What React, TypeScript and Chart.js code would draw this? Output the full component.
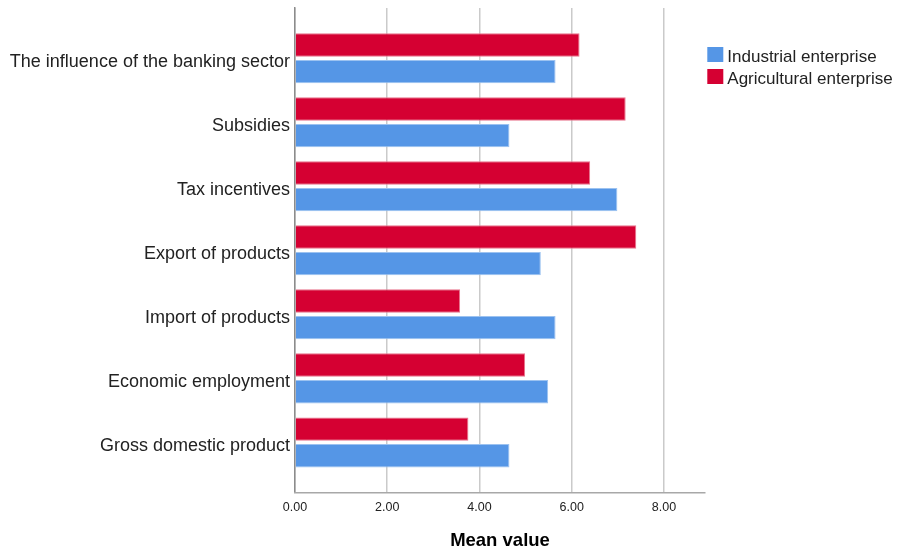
import React, { useEffect, useRef } from "react";
import { Chart, registerables } from "chart.js";

Chart.register(...registerables);

const categories = [
  "The influence of the banking sector",
  "Subsidies",
  "Tax incentives",
  "Export of products",
  "Import of products",
  "Economic employment",
  "Gross domestic product",
];
const agricultural = [6.17, 7.17, 6.4, 7.4, 3.58, 4.99, 3.76];
const industrial = [5.65, 4.65, 6.99, 5.33, 5.65, 5.49, 4.65];
const xTicks = [0, 2, 4, 6, 8];
const seriesNames = ["Agricultural enterprise", "Industrial enterprise"];

const FONT = "'Liberation Sans', Arial, Helvetica, sans-serif";

// Legend drawn at the right of the chart area, entries listed in reverse dataset order
const sideLegend = {
  id: "sideLegend",
  afterDraw(chart: any) {
    const ctx = chart.ctx;
    const ds = chart.data.datasets.slice().reverse();
    const left = chart.chartArea.right + 2.3;
    const top = 47;
    const step = 22;
    const box = 16;
    const boxH = 15;
    ctx.save();
    ctx.font = `17px ${FONT}`;
    ctx.textBaseline = "alphabetic";
    ctx.textAlign = "left";
    ds.forEach((d: any, i: number) => {
      const y = top + i * step;
      ctx.fillStyle = d.backgroundColor;
      ctx.fillRect(left, y, box, boxH);
      ctx.fillStyle = "#222";
      ctx.fillText(d.label, left + box + 4, y + 15);
    });
    ctx.restore();
  },
};

export default function App() {
  const ref = useRef<HTMLCanvasElement | null>(null);
  useEffect(() => {
    if (!ref.current) return;
    Chart.defaults.font.family = FONT;
    const chart = new Chart(ref.current, {
      type: "bar",
      data: {
        datasets: [
          {
            label: seriesNames[0],
            data: agricultural.map((v, i) => ({ x: v, y: i })),
            backgroundColor: "#D50032",
            borderColor: "#E8738C",
            borderWidth: 1,
          },
          {
            label: seriesNames[1],
            data: industrial.map((v, i) => ({ x: v, y: i })),
            backgroundColor: "#5596E6",
            borderColor: "#9CC2F0",
            borderWidth: 1,
          },
        ],
      },
      plugins: [sideLegend],
      options: {
        indexAxis: "y",
        animation: false,
        responsive: true,
        maintainAspectRatio: false,
        categoryPercentage: 0.833,
        barPercentage: 0.876,
        layout: { padding: { top: 8, left: 0, right: 193, bottom: 0 } },
        plugins: {
          tooltip: { enabled: false },
          legend: { display: false },
        },
        scales: {
          y: {
            type: "linear",
            reverse: true,
            offset: false,
            min: -0.786,
            max: 6.786,
            afterBuildTicks: (scale: any) => {
              scale.ticks = categories.map((_, i) => ({ value: i }));
            },
            afterFit: (scale: any) => {
              scale.width = 295;
              scale.paddingTop = 0;
              scale.paddingBottom = 0;
            },
            grid: { display: false, drawTicks: false },
            border: { display: true, color: "#8c8c8c", width: 1.5 },
            ticks: {
              padding: 5,
              labelOffset: 3.5,
              color: "#222",
              font: { size: 18 },
              callback: (v: any) => categories[Math.round(Number(v))] ?? "",
            },
          },
          x: {
            type: "linear",
            min: 0,
            max: 8.89,
            afterBuildTicks: (scale: any) => {
              scale.ticks = xTicks.map((v) => ({ value: v }));
            },
            afterFit: (scale: any) => {
              scale.height = 59.3;
              scale.paddingLeft = 0;
              scale.paddingRight = 0;
            },
            grid: { color: "#cacaca", lineWidth: 1.5, drawTicks: false },
            border: { display: true, color: "#a8a8a8", width: 1.5 },
            ticks: {
              padding: 7,
              color: "#222",
              font: { size: 12.5 },
              callback: (v: any) => Number(v).toFixed(2),
            },
            title: {
              display: true,
              text: "Mean value",
              color: "#000",
              font: { size: 18.5, weight: "bold" },
              padding: { top: 0, bottom: 0 },
            },
          },
        },
      },
    });
    return () => chart.destroy();
  }, []);
  return (
    <div
      style={{
        position: "fixed",
        left: 0,
        top: 0,
        width: 898,
        height: 552,
        background: "#fff",
      }}
    >
      <canvas ref={ref} />
    </div>
  );
}
